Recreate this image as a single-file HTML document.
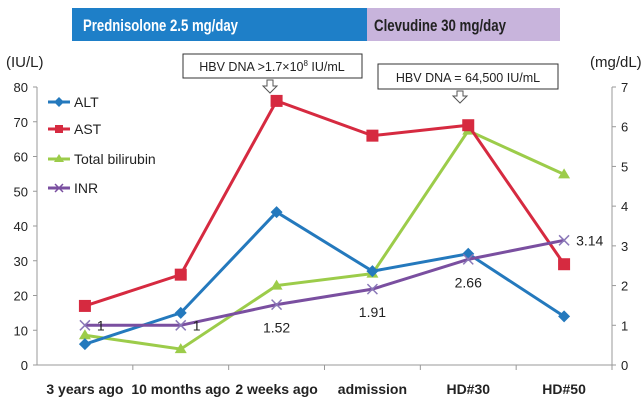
<!DOCTYPE html>
<html><head><meta charset="utf-8"><style>
body{margin:0;background:#fff;font-family:"Liberation Sans",sans-serif;}
svg text{font-family:"Liberation Sans",sans-serif;}
</style></head><body>
<svg width="644" height="414">
<rect x="72" y="8" width="295" height="33" fill="#1e7fc8"/>
<text x="83" y="31" font-size="17" font-weight="bold" fill="#fff" textLength="155" lengthAdjust="spacingAndGlyphs">Prednisolone 2.5 mg/day</text>
<rect x="367" y="8" width="193" height="33" fill="#c8b4dc"/>
<text x="374" y="31" font-size="17" font-weight="bold" fill="#222" textLength="132" lengthAdjust="spacingAndGlyphs">Clevudine 30 mg/day</text>
<text x="6" y="67" font-size="15" fill="#222">(IU/L)</text>
<text x="590" y="67" font-size="15" fill="#222">(mg/dL)</text>
<g>
<rect x="183" y="54" width="179" height="24" fill="#fff" stroke="#333"/>
<text x="272" y="71" font-size="12.5" text-anchor="middle" fill="#222">HBV DNA &gt;1.7×10<tspan font-size="8" dy="-5">8</tspan><tspan dy="5"> IU/mL</tspan></text>
<path d="M267 80h6v6h4l-7 7l-7-7h4z" fill="#fff" stroke="#555"/>
</g>
<g>
<rect x="378" y="64" width="180" height="25" fill="#fff" stroke="#333"/>
<text x="468" y="82" font-size="12.5" text-anchor="middle" fill="#222">HBV DNA = 64,500 IU/mL</text>
<path d="M457 91h6v5h4l-7 7l-7-7h4z" fill="#fff" stroke="#555"/>
</g>
<g id="axes"></g>
<g id="series"></g>
<g>
<line x1="48" y1="102" x2="70" y2="102" stroke="#2479bd" stroke-width="3"/><path d="M59 97l5 5l-5 5l-5-5z" fill="#2479bd"/><text x="74" y="107" font-size="14" fill="#222">ALT</text>
<line x1="48" y1="129" x2="70" y2="129" stroke="#d62a40" stroke-width="3"/><rect x="55" y="125" width="8" height="8" fill="#d62a40"/><text x="74" y="134" font-size="14" fill="#222">AST</text>
<line x1="48" y1="159" x2="70" y2="159" stroke="#9ccc4a" stroke-width="3"/><path d="M59 154l5 8h-10z" fill="#9ccc4a"/><text x="74" y="164" font-size="14" fill="#222">Total bilirubin</text>
<line x1="48" y1="188" x2="70" y2="188" stroke="#7a4fa0" stroke-width="3"/><path d="M55 184l8 8M63 184l-8 8" stroke="#7a4fa0" stroke-width="1.5"/><text x="74" y="193" font-size="14" fill="#222">INR</text>
</g>
</svg>
<script>
const categories=["3 years ago","10 months ago","2 weeks ago","admission","HD#30","HD#50"];
const alt=[6,15,44,27,32,14];
const ast=[17,26,76,66,69,29];
const bilirubin=[0.75,0.4,2.0,2.3,5.9,4.8];
const inr=[1,1,1.52,1.91,2.66,3.14];
const inrLabels=["1","1","1.52","1.91","2.66","3.14"];
const leftTicks=[0,10,20,30,40,50,60,70,80];
const rightTicks=[0,1,2,3,4,5,6,7];
const NS="http://www.w3.org/2000/svg";
const X0=37,X1=612,Y0=365,Y80=87;
const bw=(X1-X0)/categories.length;
const x=i=>X0+bw*(i+0.5);
const yL=v=>Y0-(Y0-Y80)*v/80;
const yR=v=>Y0-(Y0-Y80)*v/7;
function mk(t,a,p){const e=document.createElementNS(NS,t);for(const k in a)e.setAttribute(k,a[k]);p.appendChild(e);return e;}
const ax=document.getElementById('axes'),sr=document.getElementById('series');
const ln=mk('path',{d:`M${X0} ${Y80}V${Y0}H${X1}V${Y80}`,fill:'none',stroke:'#999'},ax);


leftTicks.forEach(v=>{mk('line',{x1:X0-4,x2:X0,y1:yL(v),y2:yL(v),stroke:'#999'},ax);
const t=mk('text',{x:X0-9,y:yL(v)+5,'font-size':13,'text-anchor':'end',fill:'#222'},ax);t.textContent=v;

});
rightTicks.forEach(v=>{mk('line',{x1:X1,x2:X1+4,y1:yR(v),y2:yR(v),stroke:'#999'},ax);
const t=mk('text',{x:X1+9,y:yR(v)+5,'font-size':13,fill:'#222'},ax);t.textContent=v;

});
categories.forEach((c,i)=>{mk('line',{x1:X0+bw*(i+1),x2:X0+bw*(i+1),y1:Y0,y2:Y0+5,stroke:'#999'},ax);
const t=mk('text',{x:x(i),y:394,'font-size':14,'font-weight':'bold','text-anchor':'middle',fill:'#222'},ax);t.textContent=c;

});
function series(vals,yf,col,name,marker){
const g=mk('g',{},sr);


mk('polyline',{points:vals.map((v,i)=>x(i)+','+yf(v)).join(' '),fill:'none',stroke:col,'stroke-width':3},g);
vals.forEach((v,i)=>{const cx=x(i),cy=yf(v);let m;
if(marker=='d')m=mk('path',{d:`M${cx} ${cy-6}l6 6l-6 6l-6-6z`,fill:col},g);
else if(marker=='s')m=mk('rect',{x:cx-6,y:cy-6,width:12,height:12,fill:col},g);
else if(marker=='t')m=mk('path',{d:`M${cx} ${cy-6}l6 10h-12z`,fill:col},g);
else m=mk('path',{d:`M${cx-5} ${cy-5}l10 10M${cx+5} ${cy-5}l-10 10`,stroke:'#8a78b8','stroke-width':1.5},g);

});}
series(bilirubin,yR,'#9ccc4a','bilirubin-series','t');
series(alt,yL,'#2479bd','alt-series','d');
series(ast,yL,'#d62a40','ast-series','s');
series(inr,yR,'#7a4fa0','inr-series','x');
const off=[[12,5],[12,5],[0,28],[0,28],[0,28],[12,5]];
inr.forEach((v,i)=>{const t=mk('text',{x:x(i)+off[i][0],y:yR(v)+off[i][1],'font-size':14,'text-anchor':off[i][0]?'start':'middle',fill:'#222'},sr);
t.textContent=inrLabels[i];

});
</script>
</body></html>
